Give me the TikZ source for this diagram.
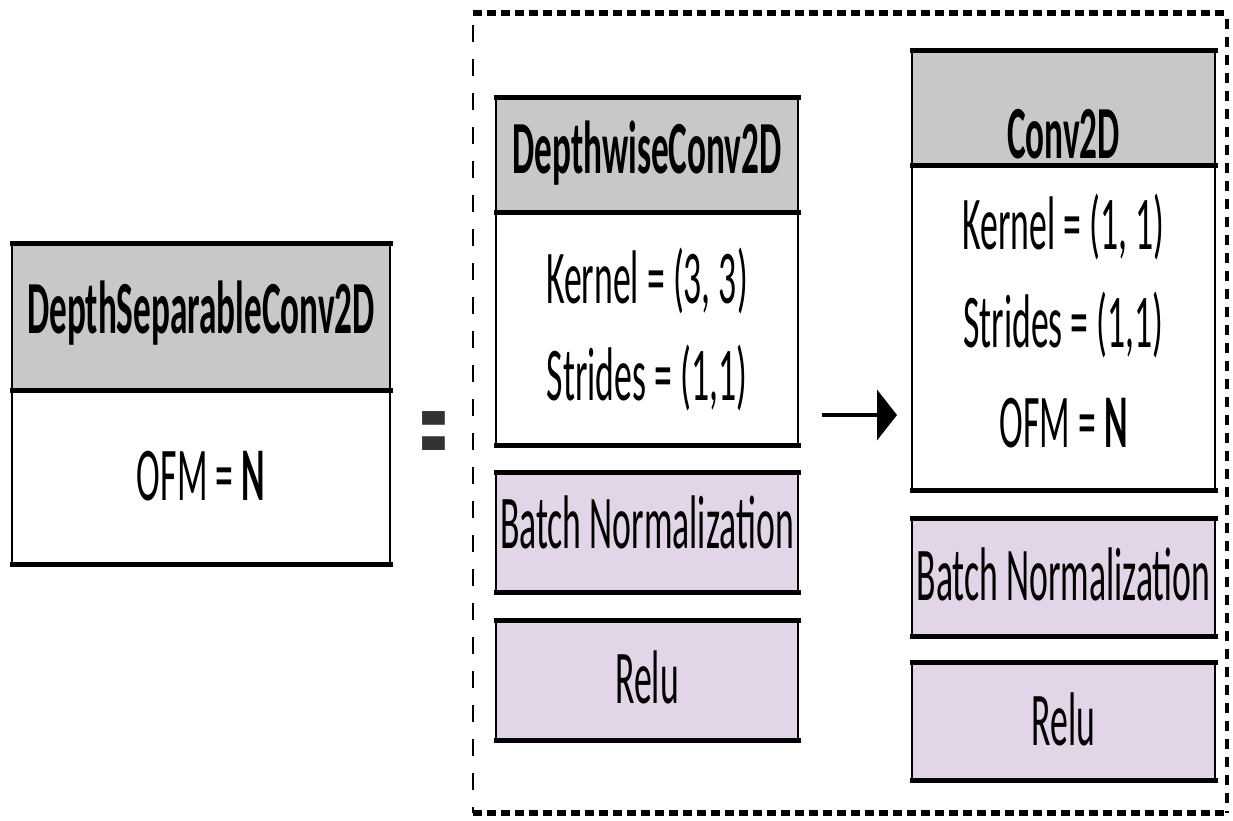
\documentclass[tikz,border=0pt]{standalone}
\usepackage{fontspec}
\usepackage{graphicx}
\setmainfont{Carlito}
\usetikzlibrary{arrows.meta}
\definecolor{hdrgray}{HTML}{C8C8C8}
\definecolor{lav}{HTML}{E1D5E7}
\definecolor{eqgray}{HTML}{333333}
\newcommand\sq[1]{\scalebox{0.47}[1]{#1}}
\newcommand\boxborder[1]{%
  \draw[sideline] (#1.north west) -- (#1.south west) (#1.north east) -- (#1.south east);
  \draw[tbline] (#1.north west) -- (#1.north east) (#1.south west) -- (#1.south east);}
\begin{document}
\begin{tikzpicture}[x=1pt,y=-1pt,
  boxshape/.style={rectangle, inner sep=0pt, outer sep=0pt, draw=none},
  hdrbox/.style={boxshape, fill=hdrgray},
  bodybox/.style={boxshape, fill=white},
  lavbox/.style={boxshape, fill=lav},
  sideline/.style={line width=2.5pt, black},
  tbline/.style={line width=5pt, black, line cap=rect},
  txt/.style={inner sep=0pt, anchor=base, font=\fontsize{76}{90}\selectfont},
  btxt/.style={txt, font=\fontsize{75}{90}\selectfont\bfseries},
]
\useasboundingbox[fill=white] (0,0) rectangle (1233,820);

% left block
\node[hdrbox, minimum width=378pt, minimum height=147pt] (lh) at (201,316.5) {};
\node[bodybox, minimum width=378pt, minimum height=174pt] (lb) at (201,477) {};
\boxborder{lh}\boxborder{lb}
\node[btxt] (lht) at (201,333) {\sq{DepthSeparableConv2D}};
\node[txt] (lbt) at (201,500) {\sq{OFM = \textbf{N}}};

% equals sign
\node[inner sep=0pt, anchor=base, text=eqgray, font=\fontsize{150}{160}\selectfont\bfseries] (eq) at (434,478) {\scalebox{0.36}[1]{=}};

% dashed frame
\node[boxshape, minimum width=754pt, minimum height=800pt] (fr) at (850,413) {};
\draw[line width=6pt, dash pattern=on 9pt off 5pt] (fr.north west) -- (fr.north east);
\draw[line width=6pt, dash pattern=on 9pt off 5pt] (fr.south west) -- (fr.south east);
\draw[line width=2pt, dash pattern=on 17pt off 17pt] (fr.north west) ++(0,12) -- (fr.south west);
\draw[line width=4pt, dash pattern=on 10pt off 8pt] (fr.north east) ++(0,6) -- (fr.south east);

% depthwise column
\node[hdrbox, minimum width=302pt, minimum height=115pt] (dwh) at (647,154.5) {};
\node[bodybox, minimum width=302pt, minimum height=233pt] (dwb) at (647,328.5) {};
\node[lavbox, minimum width=302pt, minimum height=120pt] (dwn) at (647,532) {};
\node[lavbox, minimum width=302pt, minimum height=120pt] (dwr) at (647,680) {};
\boxborder{dwh}\boxborder{dwb}\boxborder{dwn}\boxborder{dwr}
\node[btxt] (dwht) at (647,173) {\sq{DepthwiseConv2D}};
\node[txt] (dwk) at (647,303) {\sq{Kernel = (3, 3)}};
\node[txt] (dws) at (647,400) {\sq{Strides = (1,1)}};
\node[txt] (dwnt) at (647,548) {\sq{Batch Normalization}};
\node[txt] (dwrt) at (647,703) {\sq{Relu}};

% arrow
\coordinate (a1) at (822,415);
\coordinate (a2) at (897,415);
\draw[line width=4.5pt, -{Triangle[length=20pt,width=50pt]}] (a1) -- (a2);

% conv2d column
\node[hdrbox, minimum width=303pt, minimum height=115pt] (cvh) at (1063.5,107.5) {};
\node[bodybox, minimum width=303pt, minimum height=325pt] (cvb) at (1063.5,327.5) {};
\node[lavbox, minimum width=303pt, minimum height=118pt] (cvn) at (1063.5,577) {};
\node[lavbox, minimum width=303pt, minimum height=118pt] (cvr) at (1063.5,721) {};
\boxborder{cvh}\boxborder{cvb}\boxborder{cvn}\boxborder{cvr}
\node[btxt] (cvht) at (1063.5,158) {\sq{Conv2D}};
\node[txt] (cvk) at (1063.5,249) {\sq{Kernel = (1, 1)}};
\node[txt] (cvs) at (1063.5,347) {\sq{Strides = (1,1)}};
\node[txt] (cvo) at (1063.5,447) {\sq{OFM = \textbf{N}}};
\node[txt] (cvnt) at (1063.5,600) {\sq{Batch Normalization}};
\node[txt] (cvrt) at (1063.5,745) {\sq{Relu}};
\end{tikzpicture}
\end{document}
